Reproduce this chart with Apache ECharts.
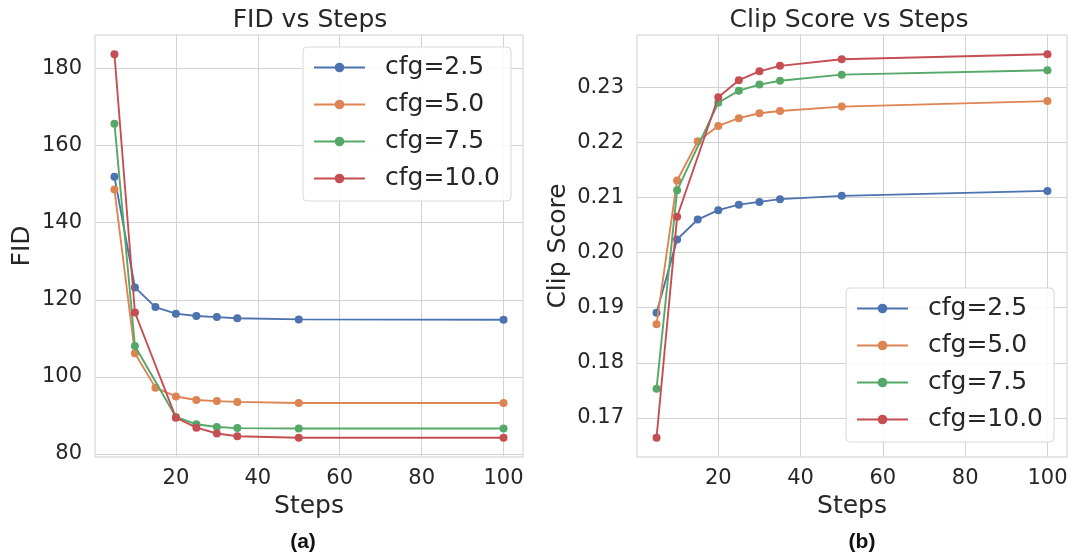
<!DOCTYPE html>
<html>
<head>
<meta charset="utf-8">
<script src="https://cdn.jsdelivr.net/npm/echarts@6/dist/echarts.min.js"></script>
<style>
html,body{margin:0;padding:0;background:#fff;}
#chart{width:1073px;height:560px;}
</style>
</head>
<body>
<div id="chart"></div>
<script>
// ---- data ----
const seriesNames = ['cfg=2.5', 'cfg=5.0', 'cfg=7.5', 'cfg=10.0'];
const stepsFull = [5, 10, 15, 20, 25, 30, 35, 50, 100];
const stepsSparse = [5, 10, 20, 25, 30, 35, 50, 100];

const fid25 = [151.9, 123.2, 118.1, 116.4, 115.8, 115.5, 115.2, 114.9, 114.8];
const fid50 = [148.6, 106.1, 97.2, 94.9, 94.0, 93.7, 93.5, 93.2, 93.2];
const fid75 = [165.7, 108.0, 89.6, 87.7, 87.0, 86.7, 86.6, 86.6];
const fid100 = [183.7, 116.7, 89.4, 86.8, 85.3, 84.6, 84.2, 84.2];

const clip25 = [0.1891, 0.2024, 0.2060, 0.2077, 0.2087, 0.2092, 0.2097, 0.2103, 0.2112];
const clip50 = [0.1870, 0.2131, 0.2202, 0.2230, 0.2244, 0.2253, 0.2257, 0.2265, 0.2275];
const clip75 = [0.1753, 0.2113, 0.2272, 0.2294, 0.2305, 0.2312, 0.2323, 0.2331];
const clip100 = [0.1664, 0.2065, 0.2282, 0.2313, 0.2329, 0.2339, 0.2351, 0.2360];

const xTicks = [20, 40, 60, 80, 100];
const fidTicks = [80, 100, 120, 140, 160, 180];
const clipTicks = [0.17, 0.18, 0.19, 0.20, 0.21, 0.22, 0.23];

const colors = ['#4C72B0', '#DD8452', '#55A868', '#C44E52'];
// ---- build ----
const FONT = 'DejaVu Sans';
const TXT = '#262626';
const GRIDC = '#d3d3d3';

function zip(xs, ys) { return xs.map((x, i) => [x, ys[i]]); }

const fidSets = [[stepsFull, fid25], [stepsFull, fid50], [stepsSparse, fid75], [stepsSparse, fid100]];
const clipSets = [[stepsFull, clip25], [stepsFull, clip50], [stepsSparse, clip75], [stepsSparse, clip100]];

function mkSeries(sets, idx) {
  return sets.map((s, i) => ({
    type: 'line', name: seriesNames[i], xAxisIndex: idx, yAxisIndex: idx,
    data: zip(s[0], s[1]), symbol: 'circle', symbolSize: 8,
    lineStyle: { width: 1.9, color: colors[i] },
    itemStyle: { color: colors[i] },
    emphasis: { disabled: true }, animation: false, z: 3 + i
  }));
}

function xAxis(idx) {
  return {
    type: 'value', gridIndex: idx, min: 0.25, max: 104.75,
    name: 'Steps', nameLocation: 'middle', nameGap: 37,
    nameTextStyle: { fontFamily: FONT, fontSize: 25, color: TXT },
    axisLine: { show: false }, axisTick: { show: false, customValues: xTicks },
    axisLabel: { customValues: xTicks, fontFamily: FONT, fontSize: 21, color: TXT, margin: 11 },
    splitLine: { show: true, lineStyle: { color: GRIDC, width: 1 } }
  };
}
function yAxis(idx, min, max, ticks, name, gap, fmt) {
  return {
    type: 'value', gridIndex: idx, min: min, max: max,
    name: name, nameLocation: 'middle', nameGap: gap,
    nameTextStyle: { fontFamily: FONT, fontSize: 25, color: TXT },
    axisLine: { show: false }, axisTick: { show: false, customValues: ticks },
    axisLabel: { customValues: ticks, fontFamily: FONT, fontSize: 21, color: TXT, margin: 13, formatter: fmt },
    splitLine: { show: true, lineStyle: { color: GRIDC, width: 1 } }
  };
}

function legend(left, top) {
  return {
    data: seriesNames, orient: 'vertical', left: left, top: top,
    itemWidth: 51, itemHeight: 12, itemGap: 12,
    padding: [8, 11, 10, 10],
    backgroundColor: 'rgba(255,255,255,0.85)', borderColor: '#d8d8d8', borderWidth: 1, borderRadius: 4,
    textStyle: { fontFamily: FONT, fontSize: 25, color: TXT, padding: [0, 0, 0, 15] },
    selectedMode: false
  };
}

const option = {
  backgroundColor: '#ffffff',
  animation: false,
  color: colors,
  title: [
    { text: 'FID vs Steps', left: 305, top: 3, textAlign: 'center', textStyle: { fontFamily: FONT, fontSize: 25, fontWeight: 'normal', color: TXT } },
    { text: 'Clip Score vs Steps', left: 844, top: 3, textAlign: 'center', textStyle: { fontFamily: FONT, fontSize: 25, fontWeight: 'normal', color: TXT } },
    { text: '(a)', left: 298, top: 527, textAlign: 'center', textStyle: { fontFamily: 'Liberation Sans', fontSize: 21, fontWeight: 'bold', color: '#111' } },
    { text: '(b)', left: 857, top: 527, textAlign: 'center', textStyle: { fontFamily: 'Liberation Sans', fontSize: 21, fontWeight: 'bold', color: '#111' } }
  ],
  grid: [
    { left: 95, top: 35, width: 428, height: 422, show: true, borderColor: '#cfcfcf', borderWidth: 1, backgroundColor: '#fff' },
    { left: 637, top: 35, width: 430, height: 422, show: true, borderColor: '#cfcfcf', borderWidth: 1, backgroundColor: '#fff' }
  ],
  xAxis: [xAxis(0), xAxis(1)],
  yAxis: [
    yAxis(0, 79.2, 188.7, fidTicks, 'FID', 60, v => String(Math.round(v))),
    yAxis(1, 0.1629, 0.2395, clipTicks, 'Clip Score', 66, v => v.toFixed(2))
  ],
  legend: [legend(303, 47), legend(846, 288)],
  series: mkSeries(fidSets, 0).concat(mkSeries(clipSets, 1))
};

const chart = echarts.init(document.getElementById('chart'), null, { renderer: 'canvas' });
chart.setOption(option);
</script>
</body>
</html>
